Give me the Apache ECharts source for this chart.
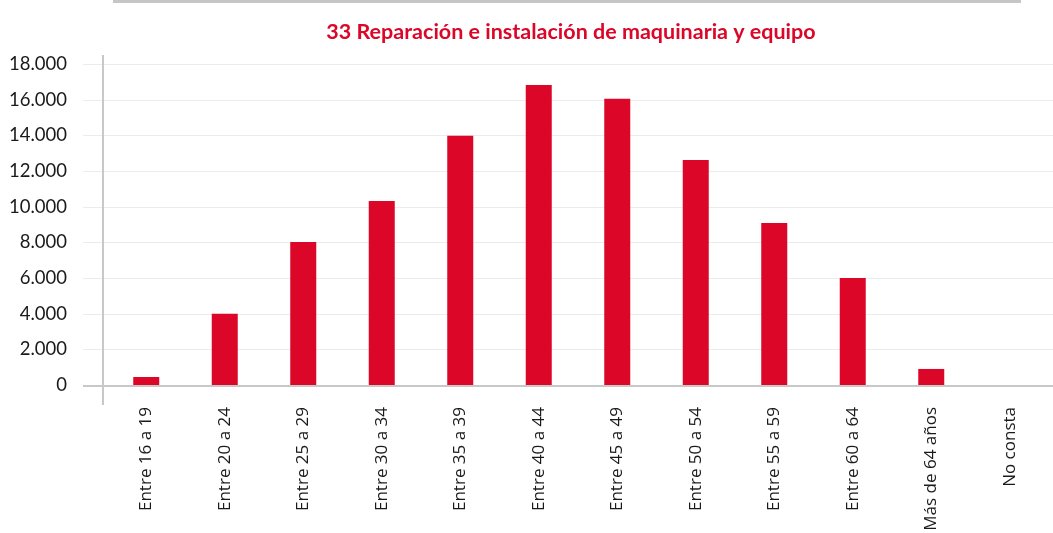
<!DOCTYPE html>
<html>
<head>
<meta charset="utf-8">
<script src="https://cdn.jsdelivr.net/npm/echarts@6/dist/echarts.min.js"></script>
<style>
  html, body { margin: 0; padding: 0; background: #fff; }
  #chart { width: 1053px; height: 533px; }
</style>
</head>
<body>
<div id="chart"></div>
<script>
// Age groups of workers, sector 33
const categories = ['Entre 16 a 19', 'Entre 20 a 24', 'Entre 25 a 29', 'Entre 30 a 34', 'Entre 35 a 39',
  'Entre 40 a 44', 'Entre 45 a 49', 'Entre 50 a 54', 'Entre 55 a 59', 'Entre 60 a 64',
  'Más de 64 años', 'No consta'];
const workers = [450, 3990, 8020, 10320, 13980, 16820, 16050, 12620, 9080, 6000, 900, 0];
const yTicks = [0, 2000, 4000, 6000, 8000, 10000, 12000, 14000, 16000, 18000];
const titleText = '33 Reparación e instalación de maquinaria y equipo';

const RED = '#dc0628';
const AXIS_GREY = '#c8c8c8';
const GRID_GREY = '#ececec';

const chart = echarts.init(document.getElementById('chart'), null, { renderer: 'canvas' });

const fmt = v => String(v).replace(/\B(?=(\d{3})+(?!\d))/g, '.');

chart.setOption({
  animation: false,
  title: {
    text: titleText,
    left: 566, top: 16, textAlign: 'center',
    textStyle: { fontFamily: 'Lato', fontWeight: 'bold', fontSize: 21.5, color: RED }
  },
  grid: { left: 107, right: 4, top: 64, bottom: 148, containLabel: false, outerBoundsMode: 'none' },
  xAxis: {
    type: 'category',
    data: categories,
    axisLine: { show: false },
    axisTick: { show: false },
    axisLabel: {
      rotate: 90, interval: 0, margin: 22,
      fontFamily: 'Open Sans', fontSize: 17, color: '#1a1a1a'
    }
  },
  yAxis: {
    type: 'value',
    min: 0, max: yTicks[yTicks.length - 1], interval: yTicks[1] - yTicks[0],
    axisLine: { show: false },
    axisTick: { show: false },
    splitLine: { show: false },
    axisLabel: {
      margin: 40, formatter: fmt,
      fontFamily: 'Lato', fontSize: 18.5, color: '#1a1a1a'
    }
  },
  series: [{
    type: 'bar',
    data: workers,
    barWidth: 26,
    itemStyle: { color: RED },
    z: 3
  }]
});

// Gridlines, axis lines and the top rule, positioned from the axis scales
function drawFrame() {
  const g = [];
  const x0 = chart.convertToPixel({ xAxisIndex: 0 }, categories[0]);
  const step = chart.convertToPixel({ xAxisIndex: 0 }, categories[1]) - x0;
  const plotLeft = x0 - step / 2;
  const yZero = chart.convertToPixel({ yAxisIndex: 0 }, 0);
  const yTop = chart.convertToPixel({ yAxisIndex: 0 }, yTicks[yTicks.length - 1]);
  const lineLeft = plotLeft - 24;
  const axisX = plotLeft - 4;

  yTicks.forEach(v => {
    if (v === 0) return;
    const y = Math.round(chart.convertToPixel({ yAxisIndex: 0 }, v)) + 0.5;
    g.push({ type: 'line', shape: { x1: lineLeft, y1: y, x2: 1053, y2: y },
      style: { stroke: GRID_GREY, lineWidth: 1 }, z: 0 });
  });
  // category axis
  g.push({ type: 'line', shape: { x1: lineLeft, y1: yZero + 1, x2: 1053, y2: yZero + 1 },
    style: { stroke: AXIS_GREY, lineWidth: 2 }, z: 1 });
  // value axis
  g.push({ type: 'line', shape: { x1: axisX, y1: yTop - 9, x2: axisX, y2: yZero + 20 },
    style: { stroke: AXIS_GREY, lineWidth: 2 }, z: 1 });
  // top rule
  g.push({ type: 'rect', shape: { x: 113, y: 0, width: 908, height: 3 },
    style: { fill: '#c6c6c6' }, z: 1 });

  chart.setOption({ graphic: g });
}
drawFrame();
</script>
</body>
</html>
